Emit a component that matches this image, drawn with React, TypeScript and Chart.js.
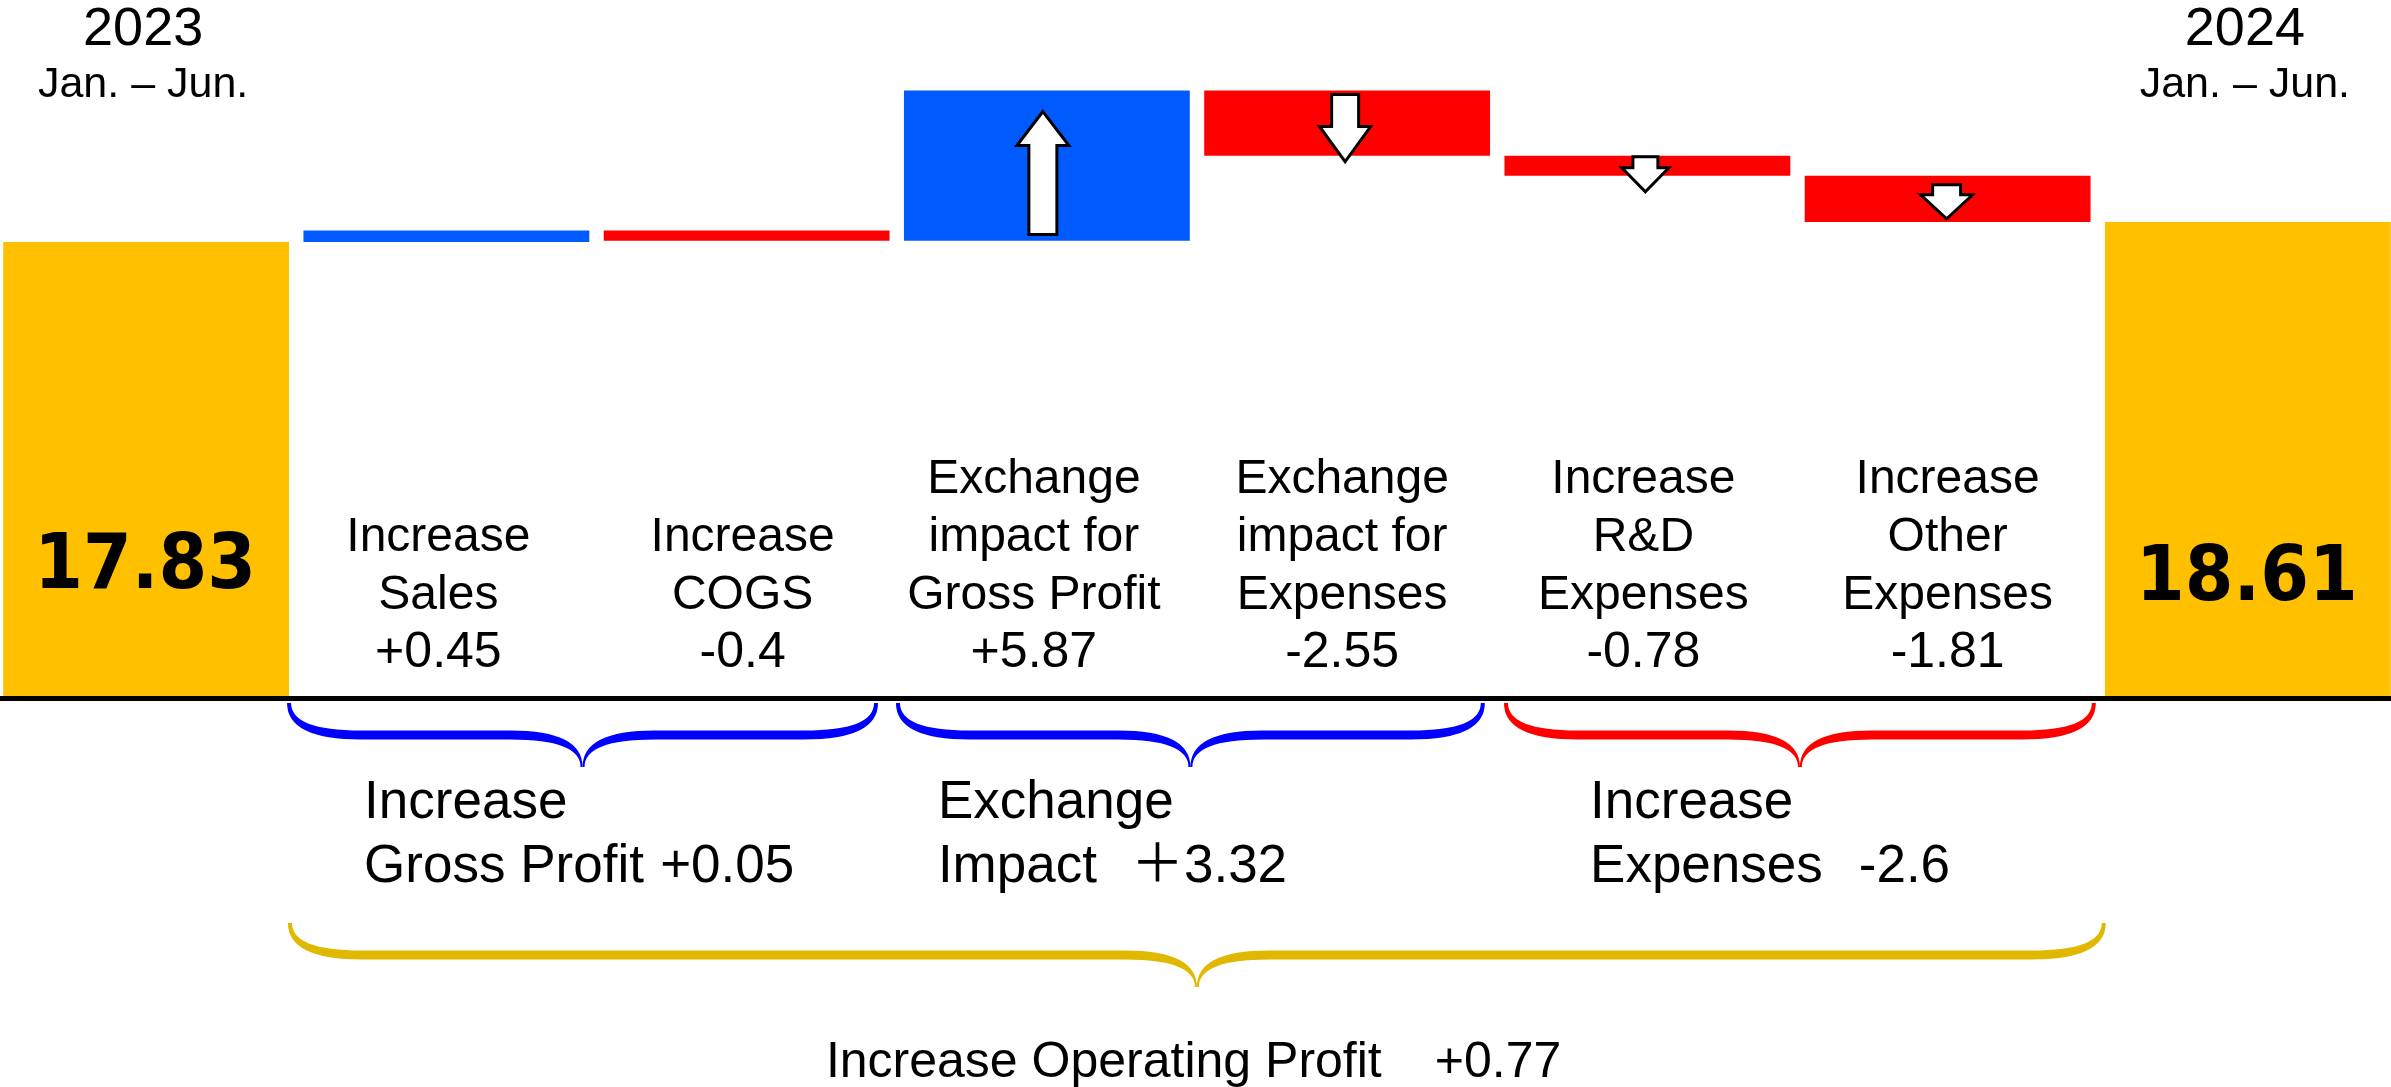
import React, { useEffect, useRef } from "react";
import { Chart, registerables } from "chart.js";

Chart.register(...registerables);

// ---------------- data ----------------
const categories = [
  "2023 Jan. – Jun.",
  "Increase Sales",
  "Increase COGS",
  "Exchange impact for Gross Profit",
  "Exchange impact for Expenses",
  "Increase R&D Expenses",
  "Increase Other Expenses",
  "2024 Jan. – Jun.",
];
const startTotal = 17.83;
const endTotal = 18.61;
const deltas = [0.45, -0.4, 5.87, -2.55, -0.78, -1.81];
const deltaLabels = ["+0.45", "-0.4", "+5.87", "-2.55", "-0.78", "-1.81"];
const deltaLines = [
  ["Increase", "Sales"],
  ["Increase", "COGS"],
  ["Exchange", "impact for", "Gross Profit"],
  ["Exchange", "impact for", "Expenses"],
  ["Increase", "R&D", "Expenses"],
  ["Increase", "Other", "Expenses"],
];
const totalLabels = ["17.83", "18.61"];
const periodYears = ["2023", "2024"];
const periodRange = "Jan. – Jun.";

const groupTitles = ["Increase", "Exchange", "Increase"];
const groupSubtitles = ["Gross Profit", "Impact", "Expenses"];
const groupValues = ["+0.05", "＋3.32", "-2.6"];
const overallTitle = "Increase Operating Profit";
const overallValue = "+0.77";

// ---------------- styles ----------------
const YELLOW = "#FFC000";
const BLUE = "#005BFF";
const RED = "#FF0000";
const BRACE_COLORS = ["#0000FF", "#0000FF", "#FF0000"];
const GOLD = "#E0B800";
const FONT = "'Liberation Sans', Arial, 'Noto Sans CJK JP', sans-serif";

// brace spans in category-index units
const braceSpans = [
  [0.476, 2.431],
  [2.504, 4.452],
  [4.529, 6.487],
];
const overallSpan = [0.479, 6.52];
const groupTextLeft = [0.726, 2.637, 4.809];
const groupValueLeft = [1.712, 3.28, 5.704];
const overallTextLeft = 2.264;
const overallValueLeft = 4.292;
const labelDx = [-8, -4, -13, -5, -4, 0];

// arrow geometry (pixel offsets from bar top), index into categories
const arrows = [
  { i: 3, tip: 21, head: 55, tail: 144, sw: 28, hw: 52, dx: -4 },
  { i: 4, tip: 71, head: 36, tail: 4, sw: 27, hw: 51, dx: -2 },
  { i: 5, tip: 36, head: 12, tail: 1, sw: 25, hw: 47, dx: -2 },
  { i: 6, tip: 43, head: 19, tail: 9, sw: 28, hw: 52, dx: -1 },
];

// build floating bars
const barRanges: number[][] = [];
const barColors: string[] = [];
barRanges.push([0, startTotal]);
barColors.push(YELLOW);
let running = startTotal;
for (const d of deltas) {
  const next = Math.round((running + d) * 100) / 100;
  barRanges.push([running, next]);
  barColors.push(d >= 0 ? BLUE : RED);
  running = next;
}
barRanges.push([0, endTotal]);
barColors.push(YELLOW);

function braceHalf(ctx: CanvasRenderingContext2D, xEnd: number, xm: number, yTop: number, yMid: number, yTip: number) {
  const d = xm > xEnd ? 1 : -1;
  const r = 72;
  const t = 9;
  const e = 2;
  ctx.beginPath();
  ctx.moveTo(xEnd - d * e, yTop);
  ctx.quadraticCurveTo(xEnd - d * e, yMid + t / 2, xEnd + d * r, yMid + t / 2);
  ctx.lineTo(xm - d * r, yMid + t / 2);
  ctx.quadraticCurveTo(xm - d * e, yMid + t / 2, xm - d * e, yTip);
  ctx.lineTo(xm, yTip);
  ctx.quadraticCurveTo(xm, yMid - t / 2, xm - d * r, yMid - t / 2);
  ctx.lineTo(xEnd + d * r, yMid - t / 2);
  ctx.quadraticCurveTo(xEnd + d * e, yMid - t / 2, xEnd + d * e, yTop);
  ctx.closePath();
  ctx.fill();
}

function brace(ctx: CanvasRenderingContext2D, x0: number, x1: number, yTop: number, color: string) {
  const xm = (x0 + x1) / 2;
  ctx.fillStyle = color;
  braceHalf(ctx, x0, xm, yTop, yTop + 32, yTop + 64);
  braceHalf(ctx, x1, xm, yTop, yTop + 32, yTop + 64);
}

const annotations = {
  id: "waterfallAnnotations",
  afterDatasetsDraw(chart: any) {
    const ctx: CanvasRenderingContext2D = chart.ctx;
    const xs = chart.scales.x;
    const ys = chart.scales.y;
    const area = chart.chartArea;
    const y0 = ys.getPixelForValue(0);
    ctx.save();

    // arrows
    ctx.lineWidth = 3;
    ctx.lineJoin = "miter";
    for (const a of arrows) {
      const top = ys.getPixelForValue(Math.max(barRanges[a.i][0], barRanges[a.i][1]));
      const cx = xs.getPixelForValue(a.i) + a.dx;
      const tY = top + a.tip;
      const hY = top + a.head;
      const sY = top + a.tail;
      ctx.beginPath();
      ctx.moveTo(cx, tY);
      ctx.lineTo(cx + a.hw / 2, hY);
      ctx.lineTo(cx + a.sw / 2, hY);
      ctx.lineTo(cx + a.sw / 2, sY);
      ctx.lineTo(cx - a.sw / 2, sY);
      ctx.lineTo(cx - a.sw / 2, hY);
      ctx.lineTo(cx - a.hw / 2, hY);
      ctx.closePath();
      ctx.fillStyle = "#FFFFFF";
      ctx.fill();
      ctx.strokeStyle = "#000000";
      ctx.stroke();
    }

    // baseline
    ctx.fillStyle = "#000000";
    ctx.fillRect(area.left, y0 - 2, area.right - area.left, 5);

    // period labels at top
    ctx.fillStyle = "#000000";
    ctx.textAlign = "center";
    ctx.textBaseline = "alphabetic";
    const totalIdx = [0, categories.length - 1];
    totalIdx.forEach((idx, k) => {
      const cx = xs.getPixelForValue(idx) - 3;
      ctx.font = `54px ${FONT}`;
      ctx.fillText(periodYears[k], cx, area.top + 45);
      ctx.font = `43px ${FONT}`;
      ctx.fillText(periodRange, cx, area.top + 97);
    });

    // big totals inside yellow bars
    const totalBaselines = [110, 98];
    totalIdx.forEach((idx, k) => {
      const cx = xs.getPixelForValue(idx) - 1;
      ctx.save();
      ctx.translate(cx, y0 - totalBaselines[k]);
      ctx.scale(0.91, 1);
      ctx.font = `bold 77px 'DejaVu Sans', Verdana, sans-serif`;
      ctx.fillText(totalLabels[k], 0, 0);
      ctx.restore();
    });

    // delta labels
    deltaLines.forEach((lines, j) => {
      const cx = xs.getPixelForValue(j + 1) + labelDx[j];
      ctx.font = `50px ${FONT}`;
      ctx.fillText(deltaLabels[j], cx, y0 - 31);
      ctx.font = `48px ${FONT}`;
      for (let l = 0; l < lines.length; l++) {
        const fromBottom = lines.length - l;
        ctx.fillText(lines[l], cx, y0 - 31 - 58 * fromBottom);
      }
    });

    // braces
    braceSpans.forEach((s, k) => {
      brace(ctx, xs.getPixelForValue(s[0]), xs.getPixelForValue(s[1]), y0 + 5, BRACE_COLORS[k]);
    });
    brace(ctx, xs.getPixelForValue(overallSpan[0]), xs.getPixelForValue(overallSpan[1]), y0 + 225, GOLD);

    // group texts
    ctx.fillStyle = "#000000";
    ctx.textAlign = "left";
    ctx.font = `53px ${FONT}`;
    groupTitles.forEach((t, k) => {
      const lx = xs.getPixelForValue(groupTextLeft[k]);
      ctx.fillText(t, lx, y0 + 120);
      ctx.fillText(groupSubtitles[k], lx, y0 + 184);
      ctx.fillText(groupValues[k], xs.getPixelForValue(groupValueLeft[k]), y0 + 184);
    });

    ctx.font = `50px ${FONT}`;
    ctx.fillText(overallTitle, xs.getPixelForValue(overallTextLeft), y0 + 379);
    ctx.fillText(overallValue, xs.getPixelForValue(overallValueLeft), y0 + 379);

    ctx.restore();
  },
};

export default function App() {
  const canvasRef = useRef<HTMLCanvasElement | null>(null);

  useEffect(() => {
    const canvas = canvasRef.current;
    if (!canvas) return;
    const pxPerUnit = 25.575;
    const baselinePx = 698;
    const H = 1087;
    const chart = new Chart(canvas, {
      type: "bar",
      data: {
        labels: categories,
        datasets: [
          {
            data: barRanges as any,
            backgroundColor: barColors,
            borderWidth: 0,
            categoryPercentage: 1,
            barPercentage: 0.952,
          },
        ],
      },
      options: {
        responsive: false,
        animation: false,
        devicePixelRatio: 1,
        events: [],
        layout: { padding: 0 },
        plugins: {
          legend: { display: false },
          tooltip: { enabled: false },
          title: { display: false },
        },
        scales: {
          x: { display: false, grid: { display: false } },
          y: {
            display: false,
            min: -(H - baselinePx) / pxPerUnit,
            max: baselinePx / pxPerUnit,
            grid: { display: false },
          },
        },
      },
      plugins: [annotations],
    });
    return () => chart.destroy();
  }, []);

  return (
    <div
      style={{
        position: "fixed",
        left: 0,
        top: 0,
        width: 2391,
        height: 1087,
        overflow: "hidden",
        background: "#FFFFFF",
      }}
    >
      <canvas
        ref={canvasRef}
        width={2402}
        height={1087}
        style={{ position: "absolute", left: -4, top: 0, width: 2402, height: 1087 }}
      />
    </div>
  );
}
